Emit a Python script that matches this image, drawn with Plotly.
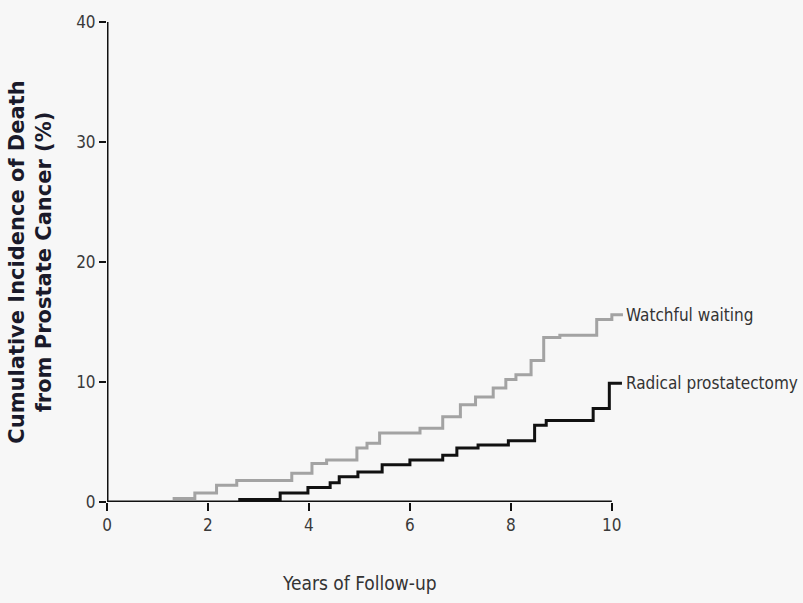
import plotly.graph_objects as go

# Cumulative incidence step curves (years, %)
ww_years = [1.3, 1.74, 2.17, 2.57, 3.66, 4.06, 4.35, 4.95, 5.15, 5.4, 6.2, 6.65, 7.0,
            7.3, 7.65, 7.9, 8.1, 8.4, 8.65, 8.97, 9.7, 10.0, 10.22]
ww_pct = [0.3, 0.75, 1.4, 1.8, 2.4, 3.2, 3.5, 4.5, 4.9, 5.75, 6.15, 7.1, 8.1,
          8.75, 9.5, 10.2, 10.6, 11.8, 13.7, 13.9, 15.2, 15.6, 15.6]

rp_years = [2.6, 3.43, 3.98, 4.42, 4.6, 4.97, 5.45, 6.0, 6.65, 6.93, 7.35, 7.95,
            8.47, 8.7, 9.63, 9.95, 10.2]
rp_pct = [0.2, 0.75, 1.2, 1.6, 2.1, 2.5, 3.1, 3.5, 3.9, 4.5, 4.75, 5.1,
          6.4, 6.8, 7.8, 9.9, 9.9]

x_ticks = [0, 2, 4, 6, 8, 10]
y_ticks = [0, 10, 20, 30, 40]

narrow = "DejaVu Sans Condensed, Liberation Sans Narrow, sans-serif"
bg = "#f7f7f7"

fig = go.Figure()
fig.add_trace(go.Scatter(x=ww_years, y=ww_pct, mode="lines", line_shape="hv",
                         line=dict(color="#a3a3a3", width=3), showlegend=False))
fig.add_trace(go.Scatter(x=rp_years, y=rp_pct, mode="lines", line_shape="hv",
                         line=dict(color="#111111", width=3), showlegend=False))

# axis lines drawn only across the labelled range
fig.add_shape(type="line", xref="x", yref="y", x0=0, x1=10, y0=0, y1=0,
              line=dict(color="#111111", width=3))
fig.add_shape(type="line", xref="x", yref="y", x0=0, x1=0, y0=-0.7, y1=40,
              line=dict(color="#111111", width=3))

fig.add_annotation(x=10.25, y=15.6, xref="x", yref="y", text="Watchful waiting",
                   showarrow=False, xanchor="left", yanchor="middle",
                   font=dict(family=narrow, size=17, color="#333333"))
fig.add_annotation(x=10.25, y=9.9, xref="x", yref="y", text="Radical prostatectomy",
                   showarrow=False, xanchor="left", yanchor="middle",
                   font=dict(family=narrow, size=17, color="#333333"))

# x-axis title, centred under the 0-10 span
fig.add_annotation(x=5, y=0, xref="x", yref="paper", yshift=-81,
                   text="Years of Follow-up", showarrow=False,
                   xanchor="center", yanchor="middle",
                   font=dict(family=narrow, size=19, color="#333333"))

fig.update_layout(
    width=803, height=603,
    margin=dict(l=107, r=803 - 107 - int(10.3 * 50.5), t=22, b=101),
    paper_bgcolor=bg, plot_bgcolor=bg,
    xaxis=dict(range=[0, 10.3], tickvals=x_ticks, ticktext=[str(v) for v in x_ticks],
               showgrid=False, zeroline=False, showline=False,
               ticks="outside", ticklen=8, tickwidth=2, tickcolor="#111111",
               tickfont=dict(family=narrow, size=17, color="#3a3a3a")),
    yaxis=dict(range=[0, 40], tickvals=y_ticks, ticktext=[str(v) for v in y_ticks],
               showgrid=False, zeroline=False, showline=False,
               ticks="outside", ticklen=7, tickwidth=2, tickcolor="#111111",
               tickfont=dict(family=narrow, size=17, color="#3a3a3a"),
               title=dict(text="<b>Cumulative Incidence of Death<br>from Prostate Cancer (%)</b>",
                          standoff=18,
                          font=dict(family="DejaVu Sans, sans-serif", size=21,
                                    color="#1a1a2a"))),
)

fig.write_html("out.html")
